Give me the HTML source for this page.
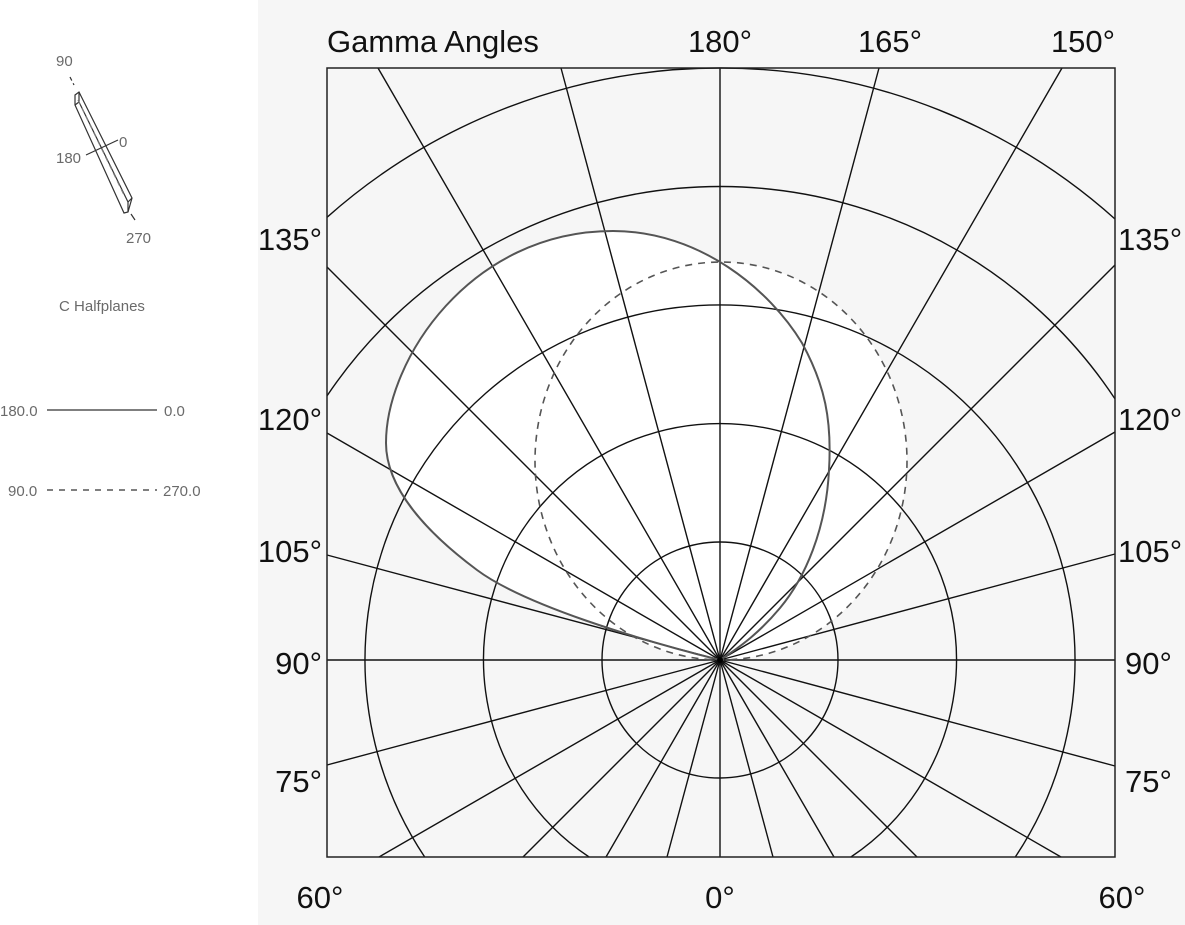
<!DOCTYPE html>
<html><head><meta charset="utf-8"><style>
html,body{margin:0;padding:0;background:#fff;width:1185px;height:925px;overflow:hidden;position:relative;}
svg{display:block;position:absolute;left:0;top:0;}
</style></head><body>
<svg width="1185" height="925" viewBox="0 0 1185 925" xmlns="http://www.w3.org/2000/svg" overflow="hidden">
<defs><clipPath id="c"><rect x="327" y="68" width="788" height="789"/></clipPath></defs>
<rect x="258" y="0" width="927" height="925" fill="#f6f6f6"/>
<g font-family="Liberation Sans, sans-serif" font-size="15" fill="#6a6a6a">
<text x="56" y="66">90</text>
<text x="56" y="163">180</text>
<text x="119" y="147">0</text>
<text x="126" y="243">270</text>
<text x="102" y="311" text-anchor="middle">C Halfplanes</text>
<text x="0" y="416">180.0</text>
<text x="164" y="416">0.0</text>
<text x="8" y="496">90.0</text>
<text x="163" y="496">270.0</text>
</g>
<g stroke="#333" fill="none" stroke-width="1.2">
<line x1="70" y1="77" x2="74" y2="85" stroke-dasharray="4,3"/>
<line x1="131" y1="214" x2="135" y2="220"/>
<polygon points="75,95 79,92 132,198 128,212 124,213 75,105" fill="#fff"/>
<line x1="79" y1="92" x2="79" y2="102"/>
<line x1="75" y1="105" x2="79" y2="102"/>
<line x1="79" y1="102" x2="128" y2="202"/>
<line x1="128" y1="202" x2="132" y2="198"/>
<line x1="128" y1="202" x2="128" y2="212"/>
<line x1="78" y1="100" x2="125" y2="197" stroke-dasharray="5,4" stroke="#777"/>
<line x1="86" y1="155" x2="118" y2="140"/>
<line x1="47" y1="410" x2="157" y2="410" stroke="#555" stroke-width="1.5"/>
<line x1="47" y1="490" x2="157" y2="490" stroke="#555" stroke-width="1.5" stroke-dasharray="6,6"/>
</g>
<path d="M720,660 C640,640 524,605 477,570 C430,535 386,490 386,443 C386,360 470,231 613,231 C700,231 770,290 802,343 C825,385 832,420 829,470 C826,530 805,578 780,608 C755,638 732,652 720,660 Z" fill="#fff" stroke="none"/>
<ellipse cx="721" cy="461" rx="186" ry="199" fill="#fff"/>
<g stroke="#111" stroke-width="1.4" fill="none">
<circle cx="720" cy="660" r="118"/>
<path d="M589.1,857 A236.5,236.5 0 1 1 850.9,857"/>
<path d="M424.7,857 A355,355 0 1 1 1015.3,857"/>
<path d="M327,395.9 A473.5,473.5 0 0 1 1115,398.9"/>
<path d="M327,217.3 A592,592 0 0 1 1115,219"/>
<line x1="720" y1="68" x2="720" y2="857"/>
<line x1="327" y1="660" x2="1115" y2="660"/>
<line x1="720" y1="660" x2="561" y2="68"/><line x1="720" y1="660" x2="879" y2="68"/>
<line x1="720" y1="660" x2="378" y2="68"/><line x1="720" y1="660" x2="1062" y2="68"/>
<line x1="720" y1="660" x2="327" y2="267"/><line x1="720" y1="660" x2="1115" y2="265"/>
<line x1="720" y1="660" x2="327" y2="433"/><line x1="720" y1="660" x2="1115" y2="432"/>
<line x1="720" y1="660" x2="327" y2="555"/><line x1="720" y1="660" x2="1115" y2="554"/>
<line x1="720" y1="660" x2="327" y2="765"/><line x1="720" y1="660" x2="1115" y2="766"/>
<line x1="720" y1="660" x2="379" y2="857"/><line x1="720" y1="660" x2="1061" y2="857"/>
<line x1="720" y1="660" x2="523" y2="857"/><line x1="720" y1="660" x2="917" y2="857"/>
<line x1="720" y1="660" x2="606" y2="857"/><line x1="720" y1="660" x2="834" y2="857"/>
<line x1="720" y1="660" x2="667" y2="857"/><line x1="720" y1="660" x2="773" y2="857"/>
</g>
<path d="M720,660 C640,640 524,605 477,570 C430,535 386,490 386,443 C386,360 470,231 613,231 C700,231 770,290 802,343 C825,385 832,420 829,470 C826,530 805,578 780,608 C755,638 732,652 720,660 Z" fill="none" stroke="#555" stroke-width="2"/>
<ellipse cx="721" cy="461" rx="186" ry="199" fill="none" stroke="#555" stroke-width="1.6" stroke-dasharray="7,6"/>
<rect x="327" y="68" width="788" height="789" fill="none" stroke="#222" stroke-width="1.5"/>
<circle cx="720" cy="660" r="3" fill="#000"/>
<g font-family="Liberation Sans, sans-serif" font-size="31" fill="#111">
<text x="327" y="52">Gamma Angles</text>
<text x="720" y="52" text-anchor="middle">180°</text>
<text x="890" y="52" text-anchor="middle">165°</text>
<text x="1083" y="52" text-anchor="middle">150°</text>
<text x="322" y="250" text-anchor="end">135°</text>
<text x="322" y="430" text-anchor="end">120°</text>
<text x="322" y="562" text-anchor="end">105°</text>
<text x="322" y="674" text-anchor="end">90°</text>
<text x="322" y="792" text-anchor="end">75°</text>
<text x="1118" y="250">135°</text>
<text x="1118" y="430">120°</text>
<text x="1118" y="562">105°</text>
<text x="1125" y="674">90°</text>
<text x="1125" y="792">75°</text>
<text x="320" y="908" text-anchor="middle">60°</text>
<text x="720" y="908" text-anchor="middle">0°</text>
<text x="1122" y="908" text-anchor="middle">60°</text>
</g>
</svg>
</body></html>
